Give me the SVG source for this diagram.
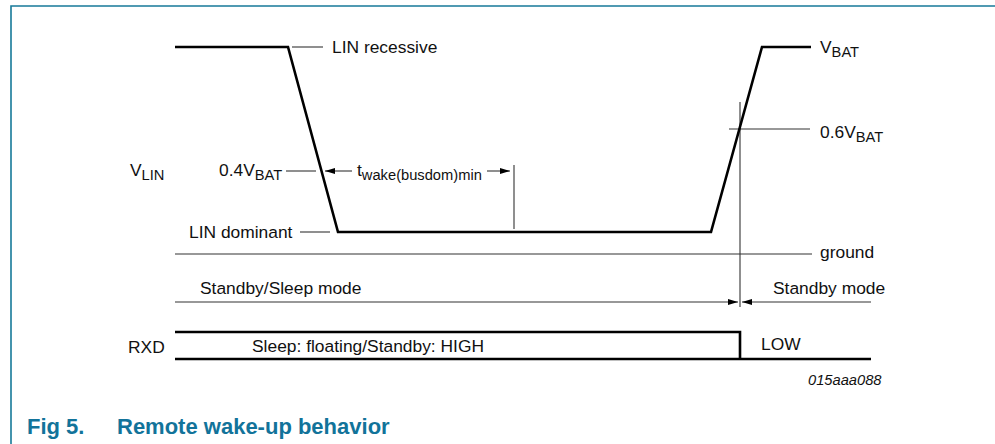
<svg xmlns="http://www.w3.org/2000/svg" width="995" height="444" viewBox="0 0 995 444">
<defs>
<style>
.t{font-family:"Liberation Sans",Arial,Helvetica,sans-serif;font-size:17.4px;fill:#111}
.s{font-size:14.7px}
.thin{stroke:#333;stroke-width:1.1;fill:none}
.wave{stroke:#000;stroke-width:2.6;fill:none;stroke-linejoin:miter}
.cap{font-family:"Liberation Sans",Arial,Helvetica,sans-serif;font-size:22px;font-weight:bold;fill:#12739a}
</style>
<marker id="ah" viewBox="0 0 10 6" refX="10" refY="3" markerWidth="10" markerHeight="6" markerUnits="userSpaceOnUse" orient="auto">
<path d="M0,0 L10,3 L0,6 Z" fill="#000"/>
</marker>
</defs>
<rect width="995" height="444" fill="#fff"/>
<g id="frame">
<path d="M11,444 V6 H995" fill="none" stroke="#177a99" stroke-width="1.6"/>
</g>
<g id="connectors">
<line class="thin" x1="292" y1="47" x2="323" y2="47"/>
<line class="thin" x1="286" y1="171" x2="316" y2="171"/>
<line class="thin" x1="300" y1="232" x2="330" y2="232"/>
<line class="thin" x1="352" y1="171" x2="325" y2="171" marker-end="url(#ah)"/>
<line class="thin" x1="487" y1="171" x2="510" y2="171" marker-end="url(#ah)"/>
<line class="thin" x1="514" y1="165" x2="514" y2="229"/>
<line class="thin" x1="729" y1="129" x2="810" y2="129"/>
<line class="thin" x1="740" y1="102" x2="740" y2="307"/>
<line class="thin" x1="175" y1="254" x2="812" y2="254"/>
<line class="thin" x1="175" y1="302" x2="738" y2="302" marker-end="url(#ah)"/>
<line class="thin" x1="871" y1="302" x2="742" y2="302" marker-end="url(#ah)"/>
</g>
<g id="lin-waveform">
<path class="wave" d="M175,47 H288 L338,232 H711 L762,47 H811"/>
</g>
<g id="rxd-waveform">
<path class="wave" d="M175,332 H740 V359"/>
<path class="wave" d="M175,359 H871"/>
</g>
<g id="labels">
<text class="t" x="332" y="53">LIN recessive</text>
<text class="t" x="130" y="176">V<tspan class="s" dy="4">LIN</tspan></text>
<text class="t" x="219" y="176">0.4V<tspan class="s" dy="4">BAT</tspan></text>
<text class="t" x="357" y="176">t<tspan class="s" dy="4">wake(busdom)min</tspan></text>
<text class="t" x="189" y="238">LIN dominant</text>
<text class="t" x="820" y="53">V<tspan class="s" dy="4">BAT</tspan></text>
<text class="t" x="820" y="138">0.6V<tspan class="s" dy="4">BAT</tspan></text>
<text class="t" x="820" y="258">ground</text>
<text class="t" x="200" y="294">Standby/Sleep mode</text>
<text class="t" x="773" y="294">Standby mode</text>
<text class="t" x="128" y="353">RXD</text>
<text class="t" x="252" y="352">Sleep: floating/Standby: HIGH</text>
<text class="t" x="761" y="350">LOW</text>
<text class="t" x="808" y="385" style="font-size:14.7px;font-style:italic">015aaa088</text>
</g>
<g id="caption">
<text class="cap" x="27" y="434">Fig 5.</text>
<text class="cap" x="117" y="434">Remote wake-up behavior</text>
</g>
</svg>
